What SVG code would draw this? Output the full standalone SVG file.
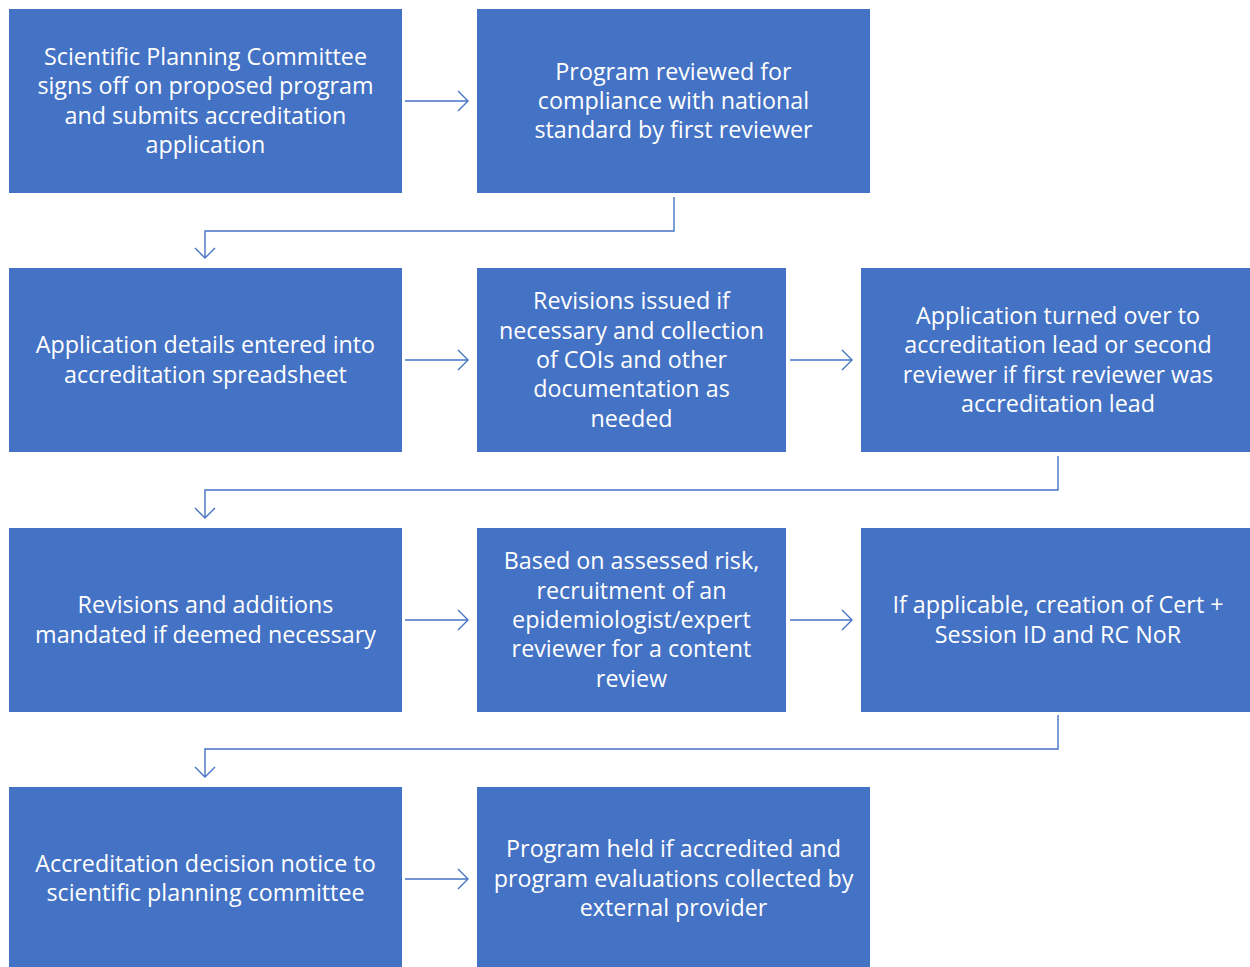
<svg xmlns="http://www.w3.org/2000/svg" width="1250" height="967" viewBox="0 0 1250 967">
<style>
.box{fill:#4472C4;}
.t{font-family:"Open Sans","Liberation Sans",sans-serif;font-size:23.3px;fill:#FFFFFF;text-anchor:middle;}
.c{fill:none;stroke:#4472C4;stroke-width:1.4;marker-end:url(#ah);}
</style>
<defs>
<marker id="ah" markerUnits="userSpaceOnUse" markerWidth="24" markerHeight="24" refX="12" refY="12" orient="auto" viewBox="0 0 24 24">
<path d="M2,2 L12,12 L2,22" fill="none" stroke="#4472C4" stroke-width="1.4"/>
</marker>
</defs>
<g id="connectors">
<path class="c" d="M405,101 H468"/>
<path class="c" d="M674,197 V231 H205 V258"/>
<path class="c" d="M405,360 H468"/>
<path class="c" d="M790,360 H852"/>
<path class="c" d="M1058,456 V490 H205 V518"/>
<path class="c" d="M405,620 H468"/>
<path class="c" d="M790,620 H852"/>
<path class="c" d="M1058,715 V749 H205 V777"/>
<path class="c" d="M405,879 H468"/>
</g>
<g id="n1">
<rect class="box" x="9" y="9" width="393" height="184"/>
<text class="t" x="205.5"><tspan x="205.5" y="65">Scientific Planning Committee</tspan><tspan x="205.5" y="94.3">signs off on proposed program</tspan><tspan x="205.5" y="123.6">and submits accreditation</tspan><tspan x="205.5" y="152.9">application</tspan></text>
</g>
<g id="n2">
<rect class="box" x="477" y="9" width="393" height="184"/>
<text class="t"><tspan x="673.5" y="79.7">Program reviewed for</tspan><tspan x="673.5" y="109">compliance with national</tspan><tspan x="673.5" y="138.3">standard by first reviewer</tspan></text>
</g>
<g id="n3">
<rect class="box" x="9" y="268" width="393" height="184"/>
<text class="t"><tspan x="205.5" y="353.3">Application details entered into</tspan><tspan x="205.5" y="382.6">accreditation spreadsheet</tspan></text>
</g>
<g id="n4">
<rect class="box" x="477" y="268" width="309" height="184"/>
<text class="t"><tspan x="631.5" y="309.4">Revisions issued if</tspan><tspan x="631.5" y="338.7">necessary and collection</tspan><tspan x="631.5" y="368">of COIs and other</tspan><tspan x="631.5" y="397.3">documentation as</tspan><tspan x="631.5" y="426.6">needed</tspan></text>
</g>
<g id="n5">
<rect class="box" x="861" y="268" width="389" height="184"/>
<text class="t"><tspan x="1058" y="324">Application turned over to</tspan><tspan x="1058" y="353.3">accreditation lead or second</tspan><tspan x="1058" y="382.6">reviewer if first reviewer was</tspan><tspan x="1058" y="411.9">accreditation lead</tspan></text>
</g>
<g id="n6">
<rect class="box" x="9" y="528" width="393" height="184"/>
<text class="t"><tspan x="205.5" y="613.3">Revisions and additions</tspan><tspan x="205.5" y="642.6">mandated if deemed necessary</tspan></text>
</g>
<g id="n7">
<rect class="box" x="477" y="528" width="309" height="184"/>
<text class="t"><tspan x="631.5" y="569.4">Based on assessed risk,</tspan><tspan x="631.5" y="598.7">recruitment of an</tspan><tspan x="631.5" y="628">epidemiologist/expert</tspan><tspan x="631.5" y="657.3">reviewer for a content</tspan><tspan x="631.5" y="686.6">review</tspan></text>
</g>
<g id="n8">
<rect class="box" x="861" y="528" width="389" height="184"/>
<text class="t"><tspan x="1058" y="613.3">If applicable, creation of Cert +</tspan><tspan x="1058" y="642.6">Session ID and RC NoR</tspan></text>
</g>
<g id="n9">
<rect class="box" x="9" y="787" width="393" height="184"/>
<text class="t"><tspan x="205.5" y="872">Accreditation decision notice to</tspan><tspan x="205.5" y="901.3">scientific planning committee</tspan></text>
</g>
<g id="n10">
<rect class="box" x="477" y="787" width="393" height="184"/>
<text class="t"><tspan x="673.5" y="857.4">Program held if accredited and</tspan><tspan x="673.5" y="886.7">program evaluations collected by</tspan><tspan x="673.5" y="916">external provider</tspan></text>
</g>
</svg>
